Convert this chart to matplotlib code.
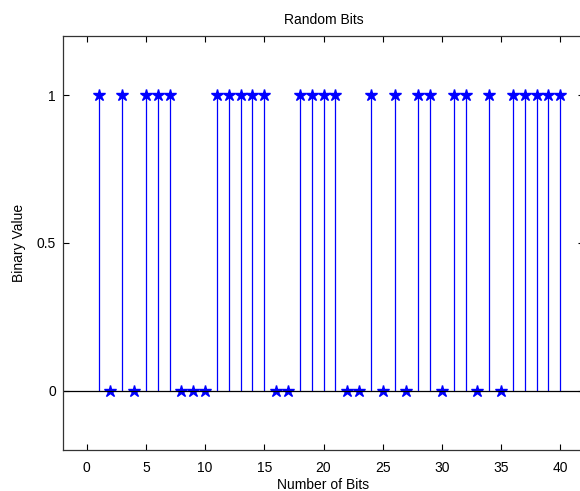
import numpy as np
import matplotlib
matplotlib.use("Agg")
import matplotlib.pyplot as plt

plt.rcParams['font.family'] = ['Liberation Sans', 'DejaVu Sans']

# bit index and value
bit_index = list(range(1, 41))
bit_value = [1, 0, 1, 0, 1, 1, 1, 0, 0, 0,
             1, 1, 1, 1, 1, 0, 0, 1, 1, 1,
             1, 0, 0, 1, 0, 1, 0, 1, 1, 0,
             1, 1, 0, 1, 0, 1, 1, 1, 1, 1]
x_ticks = [0, 5, 10, 15, 20, 25, 30, 35, 40]
y_ticks = [0, 0.5, 1]

fig = plt.figure(figsize=(5.8, 4.91), dpi=100)
ax = fig.add_axes([63/580, 1-450/491, (584-63)/580, (450-36)/491])

markerline, stemlines, baseline = ax.stem(bit_index, bit_value, basefmt='k-')
plt.setp(stemlines, color='#0000ff', linewidth=0.9)
plt.setp(markerline, marker='*', color='#0000ff', markersize=9, linestyle='none')
plt.setp(baseline, color='black', linewidth=0.9)
baseline.set_xdata([-2, 42])

ax.set_xlim(-2, 42)
ax.set_ylim(-0.2, 1.2)
ax.set_xticks(x_ticks)
ax.set_yticks(y_ticks)
ax.set_yticklabels(['0', '0.5', '1'])
ax.tick_params(direction='in', top=True, right=True, length=4, labelsize=10, width=0.8)
ax.tick_params(axis='x', pad=8)
ax.tick_params(axis='y', pad=5)
for s in ax.spines.values():
    s.set_color('#333333')
    s.set_linewidth(0.9)

ax.set_title('Random Bits', fontsize=10, pad=9)
ax.set_xlabel('Number of Bits', fontsize=10, labelpad=2)
ax.set_ylabel('Binary Value', fontsize=10, labelpad=8)

fig.savefig('out.png', dpi=100)
